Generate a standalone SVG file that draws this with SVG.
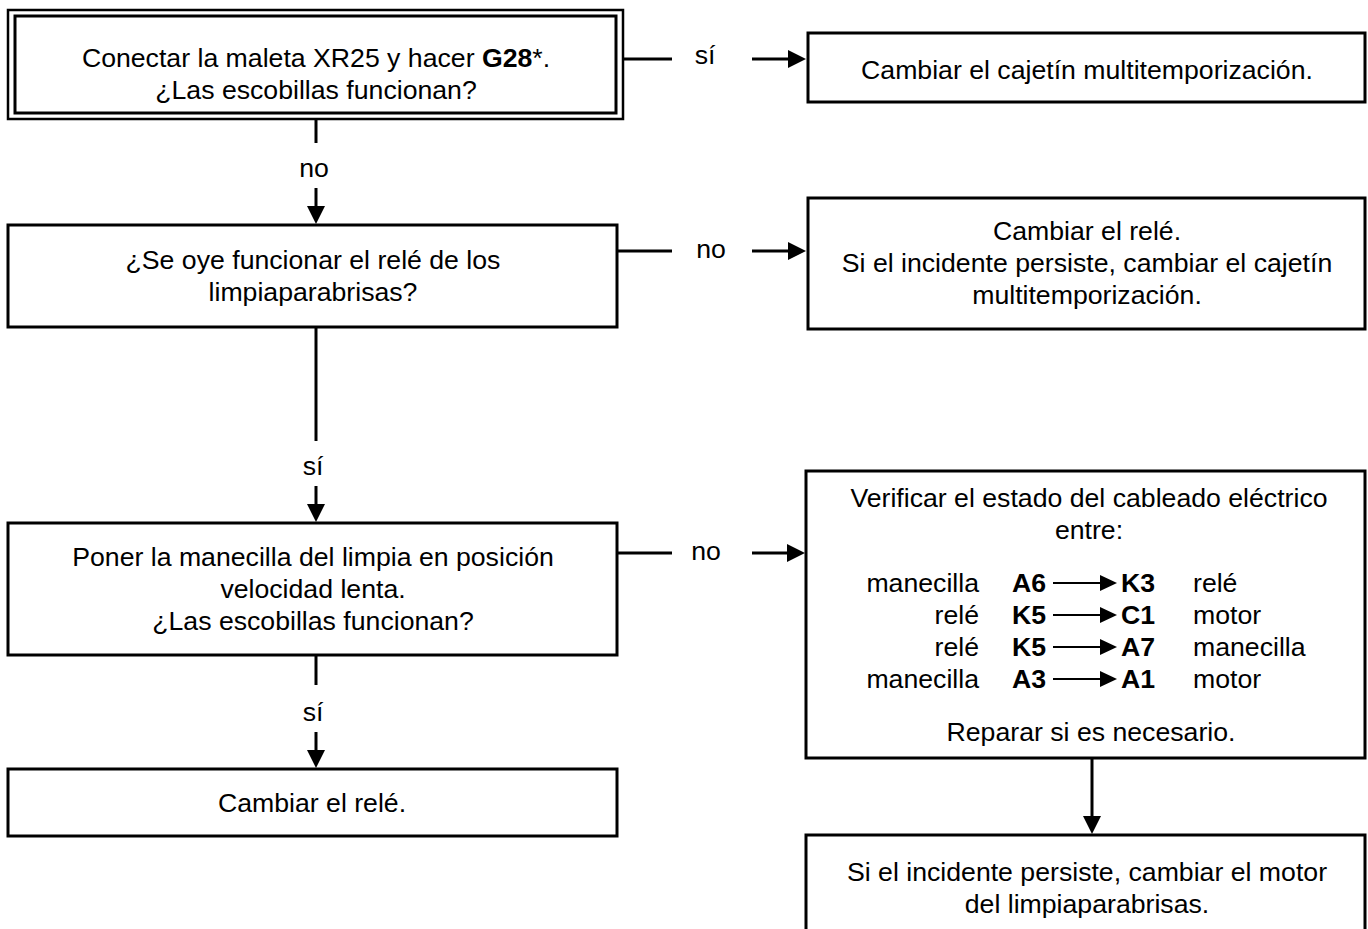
<svg xmlns="http://www.w3.org/2000/svg" width="1368" height="929" viewBox="0 0 1368 929">
<style>
  .box { fill: #fff; stroke: #000; stroke-width: 3; }
  .t { font-family: "Liberation Sans", Arial, sans-serif; font-size: 26.67px; fill: #000; }
  .c { text-anchor: middle; }
  .e { text-anchor: end; }
  .b { font-weight: bold; }
  .conn { stroke: #000; stroke-width: 3; fill: none; }
  .thin { stroke: #000; stroke-width: 2; fill: none; }
</style>
<defs>
  <marker id="ah" markerUnits="userSpaceOnUse" markerWidth="20" markerHeight="20" refX="8" refY="9" orient="auto">
    <path d="M0,0 L18,9 L0,18 z" fill="#000"/>
  </marker>
  <marker id="ahs" markerUnits="userSpaceOnUse" markerWidth="18" markerHeight="18" refX="7" refY="8" orient="auto">
    <path d="M0,0 L17,8 L0,16 z" fill="#000"/>
  </marker>
</defs>

<g id="connectors">
  <line class="conn" x1="623" y1="59" x2="672" y2="59"/>
  <text class="t c" x="705" y="64">sí</text>
  <line class="conn" x1="752" y1="59" x2="796" y2="59" marker-end="url(#ah)"/>
  <line class="conn" x1="316" y1="119" x2="316" y2="143"/>
  <text class="t c" x="314" y="177">no</text>
  <line class="conn" x1="316" y1="188" x2="316" y2="214" marker-end="url(#ah)"/>
  <line class="conn" x1="617" y1="251" x2="672" y2="251"/>
  <text class="t c" x="711" y="258">no</text>
  <line class="conn" x1="752" y1="251" x2="796" y2="251" marker-end="url(#ah)"/>
  <line class="conn" x1="316" y1="327" x2="316" y2="441"/>
  <text class="t c" x="313" y="475">sí</text>
  <line class="conn" x1="316" y1="486" x2="316" y2="512" marker-end="url(#ah)"/>
  <line class="conn" x1="617" y1="553" x2="672" y2="553"/>
  <text class="t c" x="706" y="560">no</text>
  <line class="conn" x1="752" y1="553" x2="795" y2="553" marker-end="url(#ah)"/>
  <line class="conn" x1="316" y1="655" x2="316" y2="685"/>
  <text class="t c" x="313" y="721">sí</text>
  <line class="conn" x1="316" y1="732" x2="316" y2="758" marker-end="url(#ah)"/>
  <line class="conn" x1="1092" y1="758" x2="1092" y2="824" marker-end="url(#ah)"/>
</g>

<g id="n1">
  <rect x="8" y="10" width="615" height="109" fill="#fff" stroke="#000" stroke-width="2.5"/>
  <rect x="15" y="16" width="601" height="97" fill="none" stroke="#000" stroke-width="3"/>
  <text class="t c" x="316" y="67">Conectar la maleta XR25 y hacer <tspan class="b">G28</tspan>*.</text>
  <text class="t c" x="316" y="99">¿Las escobillas funcionan?</text>
</g>

<g id="n2">
  <rect class="box" x="808" y="33" width="557" height="69"/>
  <text class="t c" x="1087" y="79">Cambiar el cajetín multitemporización.</text>
</g>

<g id="n3">
  <rect class="box" x="8" y="225" width="609" height="102"/>
  <text class="t c" x="313" y="269">¿Se oye funcionar el relé de los</text>
  <text class="t c" x="313" y="301">limpiaparabrisas?</text>
</g>

<g id="n4">
  <rect class="box" x="808" y="198" width="557" height="131"/>
  <text class="t c" x="1087" y="240">Cambiar el relé.</text>
  <text class="t c" x="1087" y="272">Si el incidente persiste, cambiar el cajetín</text>
  <text class="t c" x="1087" y="304">multitemporización.</text>
</g>

<g id="n5">
  <rect class="box" x="8" y="523" width="609" height="132"/>
  <text class="t c" x="313" y="566">Poner la manecilla del limpia en posición</text>
  <text class="t c" x="313" y="598">velocidad lenta.</text>
  <text class="t c" x="313" y="630">¿Las escobillas funcionan?</text>
</g>

<g id="n6">
  <rect class="box" x="806" y="471" width="559" height="287"/>
  <text class="t c" x="1089" y="507">Verificar el estado del cableado eléctrico</text>
  <text class="t c" x="1089" y="539">entre:</text>
  <text class="t e" x="979" y="592">manecilla</text>
  <text class="t b" x="1012" y="592">A6</text>
  <line class="thin" x1="1053" y1="583" x2="1107" y2="583" marker-end="url(#ahs)"/>
  <text class="t b" x="1121" y="592">K3</text>
  <text class="t" x="1193" y="592">relé</text>
  <text class="t e" x="979" y="624">relé</text>
  <text class="t b" x="1012" y="624">K5</text>
  <line class="thin" x1="1053" y1="615" x2="1107" y2="615" marker-end="url(#ahs)"/>
  <text class="t b" x="1121" y="624">C1</text>
  <text class="t" x="1193" y="624">motor</text>
  <text class="t e" x="979" y="656">relé</text>
  <text class="t b" x="1012" y="656">K5</text>
  <line class="thin" x1="1053" y1="647" x2="1107" y2="647" marker-end="url(#ahs)"/>
  <text class="t b" x="1121" y="656">A7</text>
  <text class="t" x="1193" y="656">manecilla</text>
  <text class="t e" x="979" y="688">manecilla</text>
  <text class="t b" x="1012" y="688">A3</text>
  <line class="thin" x1="1053" y1="679" x2="1107" y2="679" marker-end="url(#ahs)"/>
  <text class="t b" x="1121" y="688">A1</text>
  <text class="t" x="1193" y="688">motor</text>
  <text class="t c" x="1091" y="741">Reparar si es necesario.</text>
</g>

<g id="n7">
  <rect class="box" x="8" y="769" width="609" height="67"/>
  <text class="t c" x="312" y="812">Cambiar el relé.</text>
</g>

<g id="n8">
  <rect class="box" x="806" y="835" width="559" height="110"/>
  <text class="t c" x="1087" y="881">Si el incidente persiste, cambiar el motor</text>
  <text class="t c" x="1087" y="913">del limpiaparabrisas.</text>
</g>
</svg>
